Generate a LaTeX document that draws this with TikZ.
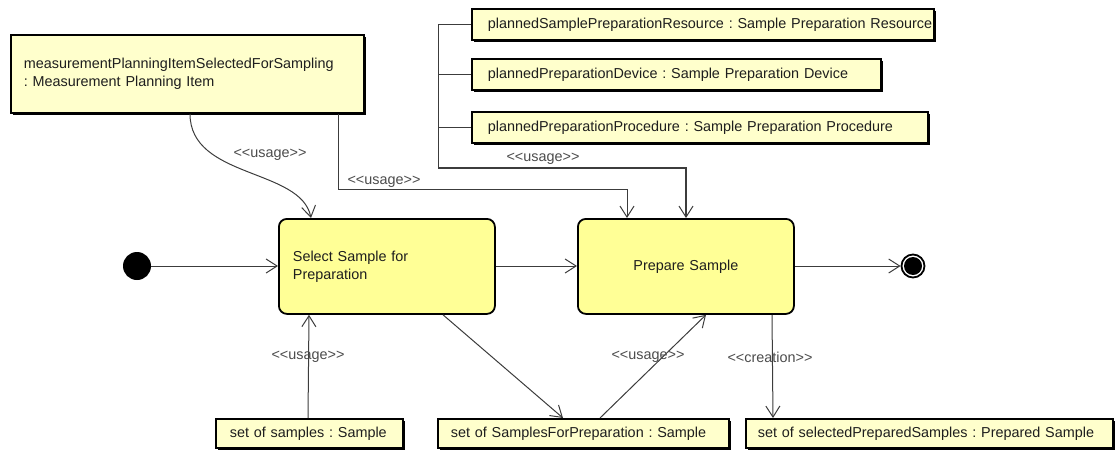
\documentclass[tikz,border=0pt]{standalone}
\usepackage{fontspec}
\setmainfont{Liberation Sans}[Ligatures=TeXOff]
\usetikzlibrary{arrows.meta,shadows}
\definecolor{objfill}{RGB}{255,255,204}
\definecolor{actfill}{RGB}{255,255,150}
\definecolor{linec}{RGB}{60,60,60}
\definecolor{txtc}{RGB}{30,30,30}
\begin{document}
\begin{tikzpicture}[x=1pt,y=-1pt,
  font=\fontsize{14.4}{18}\selectfont\frenchspacing, text=txtc,
  objbox/.style={draw=black, line width=1.8pt, fill=objfill, anchor=north west,
    inner xsep=#1, inner ysep=0pt, align=left, minimum height=31pt,
    drop shadow={shadow xshift=2pt, shadow yshift=-2pt, fill=black, opacity=1}},
  actbox/.style={draw=black, line width=1.8pt, fill=actfill, rounded corners=8pt,
    anchor=north west, minimum width=216pt, minimum height=95pt, inner xsep=14pt,
    text width=188pt},
  conn/.style={draw=linec, line width=1pt, -{Straight Barb[length=11pt,width=14pt,line width=1pt]}},
  plain/.style={draw=linec, line width=1pt},
  lbl/.style={text=txtc!80, inner sep=0pt}]
\useasboundingbox (0,0) rectangle (1120,450);

% object nodes
\node[objbox=13pt, text width=327pt, minimum height=78pt] (mpi) at (10,34)
  {measurementPlanningItemSelectedForSampling\\: Measurement Planning Item};
\node[objbox=16pt, text width=430pt] (t1) at (471,8)
  {\mbox{plannedSamplePreparationResource : Sample Preparation Resource}};
\node[objbox=16pt, text width=377pt] (t2) at (471,58)
  {\mbox{plannedPreparationDevice : Sample Preparation Device}};
\node[objbox=16pt, text width=424pt] (t3) at (471,111)
  {\mbox{plannedPreparationProcedure : Sample Preparation Procedure}};
\node[objbox=14pt, text width=159pt, minimum height=29pt] (b1) at (215,418)
  {\mbox{set of samples : Sample}};
\node[objbox=13pt, text width=265pt, minimum height=29pt] (b2) at (437,418)
  {\mbox{set of SamplesForPreparation : Sample}};
\node[objbox=12pt, text width=343pt, minimum height=29pt] (b3) at (745,418)
  {\mbox{set of selectedPreparedSamples : Prepared Sample}};

% actions
\node[actbox, align=left] (sel) at (278,218) {Select Sample for\\Preparation};
\node[actbox, align=center] (prep) at (577,218) {Prepare Sample};

% initial / final
\node[circle, fill=black, minimum size=28pt, inner sep=0pt] (init) at (137,266) {};
\node[circle, draw=black, line width=1.8pt, minimum size=23pt, inner sep=0pt] (fin) at (913,266) {};
\fill[black] (fin.center) circle[radius=9pt];

% control flow
\draw[conn] (init) -- (sel.west |- init);
\draw[conn] (sel.east |- init) -- (prep.west |- init);
\draw[conn] (prep.east |- init) -- (fin);

% object flows
\coordinate (br) at (438,168);
\draw[plain] (t1.west) -| (br);
\draw[plain] (t2.west) -- (t2.west -| br);
\draw[plain] (t3.west) -- (t3.west -| br);
\draw[conn, line width=1.4pt] (br) -| ([xshift=109pt]prep.north west);
\draw[conn] ([xshift=180pt]mpi.south west) .. controls +(0,65) and +(-10,-50) .. ([xshift=33pt]sel.north west);
\draw[conn] ([xshift=328pt]mpi.south west) -- ++(0,76) -| ([xshift=50pt]prep.north west);
\draw[conn] ([xshift=93pt]b1.north west) -- ([xshift=31pt]sel.south west);
\draw[conn] ([xshift=165pt]sel.south west) -- ([xshift=126pt]b2.north west);
\draw[conn] ([xshift=163pt]b2.north west) -- ([xshift=129pt]prep.south west);
\draw[conn] ([xshift=195pt]prep.south west) -- ([xshift=28pt]b3.north west);

% labels
\node[lbl] (l1) at (270,155) {<<usage>>};
\node[lbl] (l2) at (384,182) {<<usage>>};
\node[lbl] (l3) at (543,159) {<<usage>>};
\node[lbl] (l4) at (308,357) {<<usage>>};
\node[lbl] (l5) at (648,357) {<<usage>>};
\node[lbl] (l6) at (770,357) {<<creation>>};
\end{tikzpicture}
\end{document}
